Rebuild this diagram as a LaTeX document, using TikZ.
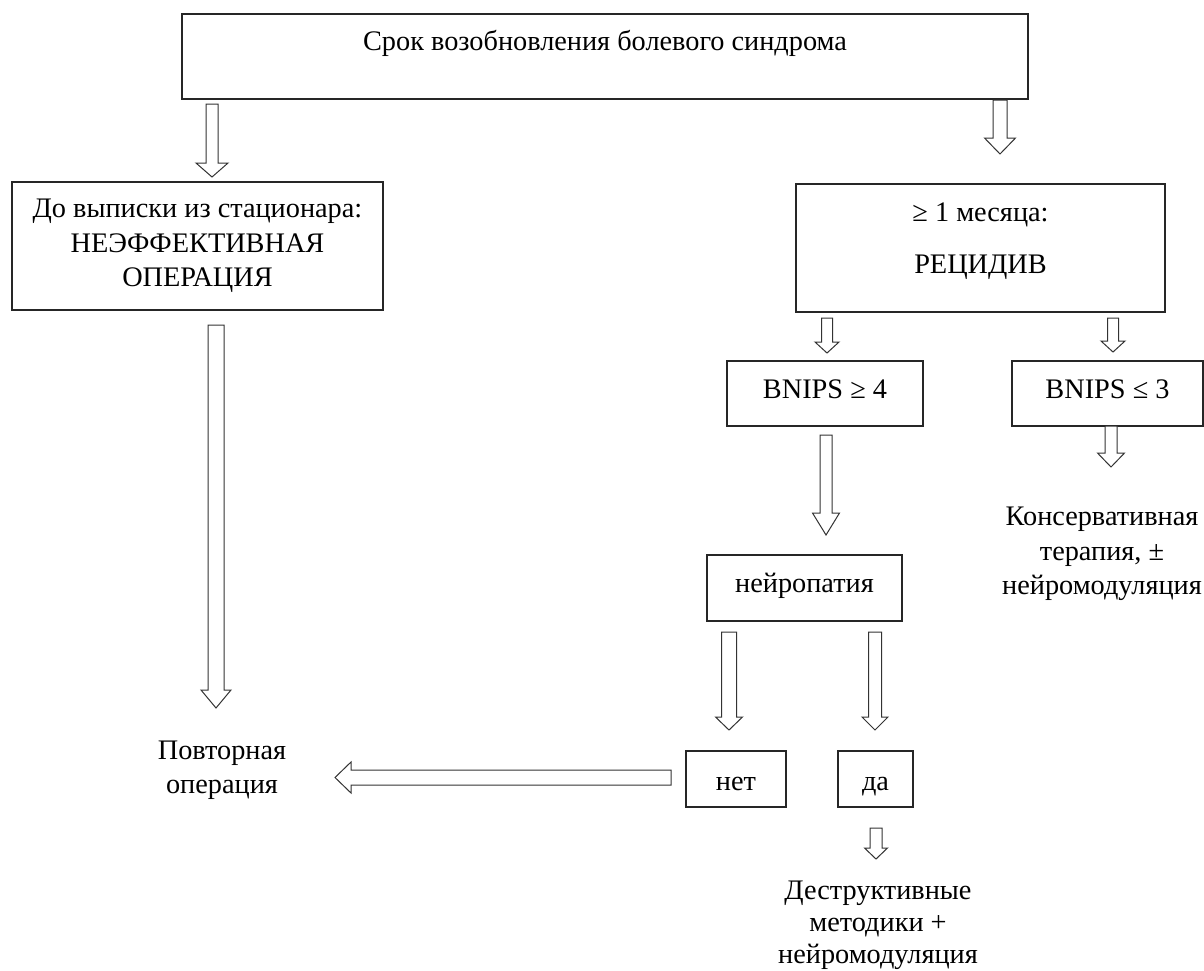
\documentclass[tikz,border=0pt]{standalone}
\usepackage{fontspec}
\setmainfont{Liberation Serif}
\usetikzlibrary{calc}
\newcommand\vblk[5]{\draw[blk] let \p1=(#1), \p2=(#2) in (\x1-#3,\y1) -- (\x1+#3,\y1) -- (\x1+#3,\y2+#5) -- (\x1+#4,\y2+#5) -- (\x1,\y2) -- (\x1-#4,\y2+#5) -- (\x1-#3,\y2+#5) -- cycle;}
\newcommand\hblk[5]{\draw[blk] let \p1=(#1), \p2=(#2) in (\x1,\y1+#3) -- (\x1,\y1-#3) -- (\x2+#5,\y1-#3) -- (\x2+#5,\y1-#4) -- (\x2,\y1) -- (\x2+#5,\y1+#4) -- (\x2+#5,\y1+#3) -- cycle;}
\tikzset{
  every node/.style={font=\fontsize{28.3}{34.5}\selectfont, text=black},
  box/.style={draw=black!85, line width=1.3pt, inner sep=0pt, align=center},
  plain/.style={inner sep=0pt, align=center},
  blk/.style={draw=black!80, line width=1pt, fill=white, line join=miter}
}
\begin{document}
\begin{tikzpicture}[x=1pt,y=-1pt]
\useasboundingbox (0,0) rectangle (1204,970);
% boxes
\node[box, minimum width=846pt, minimum height=85pt, text height=20pt, text depth=33pt] (top) at (605,56.5) {Срок возобновления болевого синдрома};
\node[box, minimum width=371pt, minimum height=128pt] (left) at (197.5,246) {До выписки из стационара:\\НЕЭФФЕКТИВНАЯ\\ОПЕРАЦИЯ};
\node[box, minimum width=369pt, minimum height=128pt, text height=60pt, text depth=10pt] (rec) at (980.5,248) {≥ 1 месяца:\\[17pt]РЕЦИДИВ};
\node[box, minimum width=196pt, minimum height=65pt, text height=16pt, text depth=7pt] (b4) at (825,393.5) {BNIPS ≥ 4};
\node[box, minimum width=191pt, minimum height=65pt, text height=16pt, text depth=7pt] (b3) at (1107.5,393.5) {BNIPS ≤ 3};
\node[plain] (cons) at (1102,554) {Консервативная\\терапия, ±\\нейромодуляция};
\node[box, minimum width=195pt, minimum height=66pt, text height=15pt, text depth=7pt] (neuro) at (804.5,588) {нейропатия};
\node[box, minimum width=100pt, minimum height=56pt, text height=29pt, text depth=7pt] (net) at (736,779) {нет};
\node[box, minimum width=75pt, minimum height=56pt, text height=29pt, text depth=7pt] (da) at (875.5,779) {да};
\node[plain] (povt) at (222,770) {Повторная\\операция};
\node[plain, font=\fontsize{28.3}{32}\selectfont] (destr) at (878,925) {Деструктивные\\методики +\\нейромодуляция};
% connector end points
\coordinate (a1s) at (212,104);  \coordinate (a1e) at (212,177);
\coordinate (a2s) at (1000,100); \coordinate (a2e) at (1000,154);
\coordinate (a3s) at (216,325);  \coordinate (a3e) at (216,708);
\coordinate (a4s) at (827,318);  \coordinate (a4e) at (827,353);
\coordinate (a5s) at (1113,318); \coordinate (a5e) at (1113,352);
\coordinate (a6s) at (1111,426); \coordinate (a6e) at (1111,467);
\coordinate (a7s) at (826,435);  \coordinate (a7e) at (826,535);
\coordinate (a8s) at (729,632);  \coordinate (a8e) at (729,730);
\coordinate (a9s) at (875,632);  \coordinate (a9e) at (875,730);
\coordinate (a10s) at (876,828); \coordinate (a10e) at (876,859);
\coordinate (a11s) at (671,777.5); \coordinate (a11e) at (335,777.5);
% connectors
\vblk{a1s}{a1e}{6pt}{16pt}{14pt}
\vblk{a2s}{a2e}{7pt}{15.5pt}{16pt}
\vblk{a3s}{a3e}{8pt}{15pt}{18pt}
\vblk{a4s}{a4e}{5.5pt}{12pt}{11pt}
\vblk{a5s}{a5e}{5.5pt}{12pt}{11pt}
\vblk{a6s}{a6e}{6pt}{13.5pt}{14pt}
\vblk{a7s}{a7e}{6pt}{13.5pt}{22pt}
\vblk{a8s}{a8e}{7.5pt}{13.5pt}{13pt}
\vblk{a9s}{a9e}{6.5pt}{13pt}{13pt}
\vblk{a10s}{a10e}{6pt}{11.5pt}{11pt}
\hblk{a11s}{a11e}{7.5pt}{15.5pt}{16pt}
\end{tikzpicture}
\end{document}
